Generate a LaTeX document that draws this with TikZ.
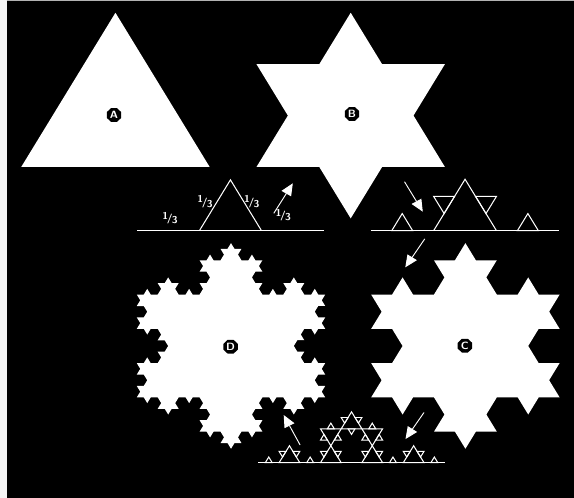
\documentclass[tikz,border=0pt]{standalone}
\usetikzlibrary{calc, arrows.meta, shapes.geometric, decorations.fractals}

% one Koch step on the segment #1--#2: corners #3a, #3b (tip), #3c
\newcommand{\kochbump}[3]{%
  \coordinate (#3a) at ($(#1)!1/3!(#2)$);
  \coordinate (#3c) at ($(#1)!2/3!(#2)$);
  \coordinate (#3b) at ($(#3a)!1!60:(#3c)$);
}
% the one-third mark
\newcommand{\onethird}{\raisebox{0.5ex}{1}\kern-0.12em/\kern-0.08em\raisebox{-0.45ex}{3}}

\begin{document}
\begin{tikzpicture}[x=0.03cm, y=0.03cm,
    % white fractal shapes
    flake/.style={fill=white, decoration=Koch snowflake},
    % octagon letter tags
    tag/.style={regular polygon, regular polygon sides=8, fill=black, text=white,
      minimum size=0.47cm, inner sep=0pt, font=\sffamily\bfseries\fontsize{9.5}{9.5}\selectfont},
    % construction lines
    guide/.style={white, line width=0.9pt},
    pointer/.style={-{Triangle[length=0.38cm, width=0.33cm]}, white, line width=0.8pt},
    third/.style={white, inner sep=0pt, font=\sffamily\bfseries\fontsize{9}{9}\selectfont}
]

    % --- BACKGROUND ---
    \fill[gray!8] (0,0) rectangle (574,-498);
    \useasboundingbox (0,0) rectangle (574,-498);
    \fill[black] (6.5,-1) rectangle (574,-498);
    \draw[gray!60, line width=0.03cm] (6.5,-0.5) -- (574,-0.5);

\begin{scope}[transform canvas={yscale=0.945}]

    % --- A: TRIANGLE ---
    \coordinate (cA) at (115.45,-122.3);
    \coordinate (A1) at ($(cA)+(90:108.8)$);
    \coordinate (A2) at ($(cA)+(-30:108.8)$);
    \coordinate (A3) at ($(cA)+(210:108.8)$);
    \fill[white] (A1) -- (A2) -- (A3) -- cycle;
    \node[tag] (tagA) at (114,-121.7) {A};

    % --- B: STAR ---
    \coordinate (cB) at (350.7,-122.3);
    \coordinate (B1) at ($(cB)+(90:108.8)$);
    \coordinate (B2) at ($(cB)+(-30:108.8)$);
    \coordinate (B3) at ($(cB)+(210:108.8)$);
    \fill[flake] decorate{(B1) -- (B2) -- (B3) -- (B1)};
    \node[tag] (tagB) at (352,-120.6) {B};

    % --- C: SECOND STEP ---
    \coordinate (cC) at (465.4,-366.1);
    \coordinate (C1) at ($(cC)+(90:108.8)$);
    \coordinate (C2) at ($(cC)+(-30:108.8)$);
    \coordinate (C3) at ($(cC)+(210:108.8)$);
    \fill[flake] decorate{decorate{(C1) -- (C2) -- (C3) -- (C1)}};
    \node[tag] (tagC) at (464.9,-365.8) {C};

    % --- D: THIRD STEP ---
    \coordinate (cD) at (231,-366.1);
    \coordinate (D1) at ($(cD)+(90:108.8)$);
    \coordinate (D2) at ($(cD)+(-30:108.8)$);
    \coordinate (D3) at ($(cD)+(210:108.8)$);
    \fill[flake] decorate{decorate{decorate{(D1) -- (D2) -- (D3) -- (D1)}}};
    \node[tag] (tagD) at (230.6,-366.9) {D};

    % --- LINE 1 ---
    \coordinate (p0) at (137.3,-244.1);
    \coordinate (p1) at (323.6,-244.1);
    \kochbump{p0}{p1}{u}
    \draw[guide] (p0) -- (p1);
    \draw[guide] (ua) -- (ub) -- (uc);
    \node[third] (t1) at (170,-231.0) {\onethird};
    \node[third] (t2) at (205,-213.4) {\onethird};
    \node[third] (t3) at (251.7,-213.4) {\onethird};
    \node[third] (t4) at (283.3,-227.5) {\onethird};

    % --- LINE 2 ---
    \coordinate (q0) at (370.8,-244.1);
    \coordinate (q1) at (559.3,-244.1);
    \kochbump{q0}{q1}{v}
    \draw[guide] (q0) -- (q1);
    \draw[guide] (va) -- (vb) -- (vc);
    \foreach \p/\q [count=\i] in {q0/va, va/vb, vb/vc, vc/q1} {
        \kochbump{\p}{\q}{w\i}
        \draw[guide] (w\i a) -- (w\i b) -- (w\i c) -- cycle;
    }

    % --- LINE 3 ---
    \coordinate (r0) at (258.4,-489.6);
    \coordinate (r1) at (444.7,-489.6);
    \coordinate (e1) at ($(r0)!4/9!(r1)$);
    \coordinate (e2) at ($(r0)!5/9!(r1)$);
    \kochbump{r0}{r1}{k}
    \foreach \p/\q [count=\i] in {r0/ka, ka/kb, kb/kc, kc/r1} {
        \kochbump{\p}{\q}{m\i}
    }
    \draw[guide] (r0) -- (r1);
    % small tiles of the second step
    \foreach \x/\y/\z in {m1a/m1b/m1c, ka/m2a/e1, m2a/m2b/m2c, m2c/kb/m3a,
                          m3a/m3b/m3c, e2/m3c/kc, m4a/m4b/m4c} {
        \draw[guide] (\x) -- (\y) -- (\z) -- cycle;
    }
    % tiny tiles of the third step
    \foreach \p/\q in {r0/m1a, m1a/m1b, m1b/m1c, m1c/ka, ka/m2a, m2a/e1,
                       m2a/m2b, m2b/m2c, m2c/m2a, m2c/kb, kb/m3a, m3a/m2c,
                       m3a/m3b, m3b/m3c, m3c/m3a, e2/m3c, m3c/kc,
                       kc/m4a, m4a/m4b, m4b/m4c, m4c/r1} {
        \kochbump{\p}{\q}{n}
        \draw[guide] (na) -- (nb) -- (nc) -- cycle;
    }

    % --- ARROWS ---
    \coordinate (a1s) at (273.8,-225.7);  \coordinate (a1e) at (292.8,-194.0);
    \coordinate (a2s) at (404.5,-192.3);  \coordinate (a2e) at (422.8,-224.0);
    \coordinate (a3s) at (424.8,-252.7);  \coordinate (a3e) at (405.3,-282.9);
    \coordinate (a4s) at (300.1,-470.9);  \coordinate (a4e) at (283.7,-439.2);
    \coordinate (a5s) at (424,-436.5);    \coordinate (a5e) at (405.5,-464.6);
    \draw[pointer] (a1s) -- (a1e);
    \draw[pointer] (a2s) -- (a2e);
    \draw[pointer] (a3s) -- (a3e);
    \draw[pointer] (a4s) -- (a4e);
    \draw[pointer] (a5s) -- (a5e);

\end{scope}

\end{tikzpicture}
\end{document}
